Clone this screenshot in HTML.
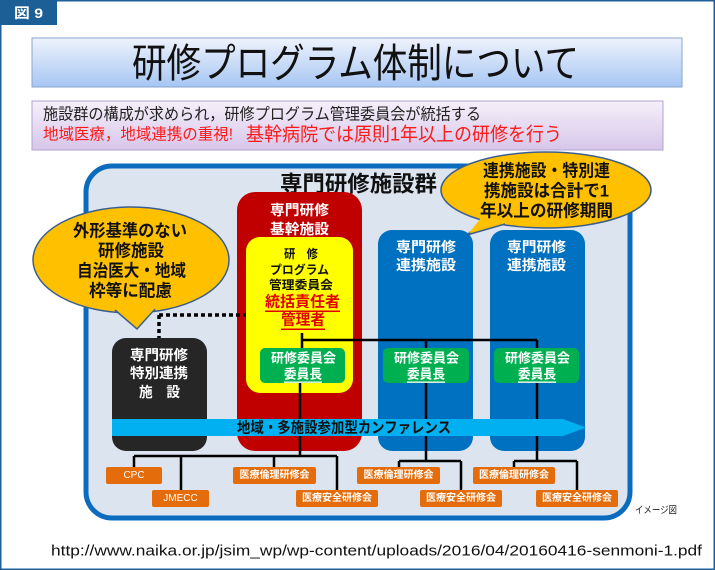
<!DOCTYPE html>
<html><head><meta charset="utf-8"><style>
html,body{margin:0;padding:0;background:#fff}
svg{display:block}
text{font-family:"Liberation Sans","Noto Sans CJK JP",sans-serif}
</style></head><body>
<svg width="715" height="570" viewBox="0 0 715 570" xmlns="http://www.w3.org/2000/svg">
<defs>
<linearGradient id="gt" x1="0" y1="0" x2="0" y2="1"><stop offset="0" stop-color="#eef3fc"/><stop offset="1" stop-color="#a7c6f3"/></linearGradient>
<linearGradient id="gs" x1="0" y1="0" x2="0" y2="1"><stop offset="0" stop-color="#f6f0fa"/><stop offset="1" stop-color="#d6c6ea"/></linearGradient>
</defs>
<rect x="0.75" y="0.75" width="713.5" height="568.5" fill="#fff" stroke="#1f5f9a" stroke-width="1.5"/>
<rect x="0" y="0" width="57" height="25" fill="#1c5e96"/>
<text x="14" y="13" dominant-baseline="central" fill="#fff" font-size="14" font-weight="bold" textLength="29" lengthAdjust="spacingAndGlyphs">図 9</text>

<rect x="32" y="38" width="650" height="49" fill="url(#gt)" stroke="#8aa6cc"/>
<text x="132" y="64" dominant-baseline="central" font-size="40" textLength="447" lengthAdjust="spacingAndGlyphs" fill="#111">研修プログラム体制について</text>

<rect x="32" y="101" width="631" height="49" fill="url(#gs)" stroke="#b3a3cf"/>
<text x="43" y="115" dominant-baseline="central" font-size="16" textLength="438" lengthAdjust="spacingAndGlyphs" fill="#222">施設群の構成が求められ，研修プログラム管理委員会が統括する</text>
<text x="43" y="135" dominant-baseline="central" font-size="16" textLength="190" lengthAdjust="spacingAndGlyphs" fill="#ff1a1a">地域医療，地域連携の重視!</text>
<text x="246" y="135" dominant-baseline="central" font-size="19" textLength="316" lengthAdjust="spacingAndGlyphs" fill="#ff1a1a">基幹病院では原則1年以上の研修を行う</text>

<rect x="86" y="166" width="544" height="352" rx="26" fill="#dce4f0" stroke="#0b6bbf" stroke-width="5"/>
<text x="280" y="184" dominant-baseline="central" font-size="22" font-weight="bold" textLength="157" lengthAdjust="spacingAndGlyphs" fill="#111">専門研修施設群</text>

<rect x="237" y="192" width="125" height="259" rx="18" fill="#c00000"/>
<rect x="246" y="237" width="107" height="156" rx="14" fill="#ffff00"/>
<rect x="378" y="230" width="95" height="221" rx="14" fill="#0070c0"/>
<rect x="490" y="230" width="95" height="221" rx="14" fill="#0070c0"/>
<rect x="112" y="338" width="95" height="113" rx="14" fill="#262626"/>

<rect x="260" y="348" width="85" height="35" rx="5" fill="#00b050"/>
<rect x="383" y="348" width="86" height="35" rx="5" fill="#00b050"/>
<rect x="494" y="348" width="85" height="35" rx="5" fill="#00b050"/>

<g stroke="#000" stroke-width="2.5" fill="none">
<path d="M302 333 V348 M302 340 H537 M426 340 V348 M537 340 V348"/>
<path d="M300 383 V456 M134 456 H337 M134 456 V467 M181 456 V490 M274 456 V467 M337 456 V490"/>
<path d="M426 383 V461 M399 461 H461 M399 461 V467 M461 461 V490"/>
<path d="M537 383 V461 M514 461 H577 M514 461 V467 M577 461 V490"/>
</g>
<path d="M159 315 H246 M159 315 V338" stroke="#000" stroke-width="3.5" stroke-dasharray="4,3" fill="none"/>

<polygon points="112,419 563,419 586,427.5 563,436 112,436" fill="#00b0f0"/>
<text x="237" y="428" dominant-baseline="central" font-size="15" font-weight="bold" textLength="214" lengthAdjust="spacingAndGlyphs" fill="#111">地域・多施設参加型カンファレンス</text>

<ellipse cx="131" cy="260" rx="98" ry="53" fill="#ffc000" stroke="#3a5f8f" stroke-width="1.5"/>
<path d="M115 310 L137 329 L155 309" fill="#ffc000" stroke="#3a5f8f" stroke-width="1.5"/>
<path d="M113 306 L137 327 L158 305 Z" fill="#ffc000"/>
<ellipse cx="546" cy="190" rx="105" ry="38" fill="#ffc000" stroke="#3a5f8f" stroke-width="1.5"/>
<path d="M487 218 L467 235 L505 224" fill="#ffc000" stroke="#3a5f8f" stroke-width="1.5"/>
<path d="M484 214 L469 233 L510 220 Z" fill="#ffc000"/>

<g font-weight="bold" font-size="17" fill="#111" dominant-baseline="central">
<text x="73" y="231" textLength="114" lengthAdjust="spacingAndGlyphs">外形基準のない</text>
<text x="98" y="251" textLength="66" lengthAdjust="spacingAndGlyphs">研修施設</text>
<text x="77" y="271" textLength="109" lengthAdjust="spacingAndGlyphs">自治医大・地域</text>
<text x="89" y="291" textLength="83" lengthAdjust="spacingAndGlyphs">枠等に配慮</text>
<text x="483" y="171" textLength="127" lengthAdjust="spacingAndGlyphs">連携施設・特別連</text>
<text x="484" y="191" textLength="125" lengthAdjust="spacingAndGlyphs">携施設は合計で1</text>
<text x="480" y="211" textLength="133" lengthAdjust="spacingAndGlyphs">年以上の研修期間</text>
</g>

<g font-weight="bold" font-size="14" fill="#fff" dominant-baseline="central">
<text x="270" y="210" textLength="59" lengthAdjust="spacingAndGlyphs">専門研修</text>
<text x="270" y="229" textLength="59" lengthAdjust="spacingAndGlyphs">基幹施設</text>
<text x="396" y="247" textLength="60" lengthAdjust="spacingAndGlyphs">専門研修</text>
<text x="396" y="265" textLength="60" lengthAdjust="spacingAndGlyphs">連携施設</text>
<text x="507" y="247" textLength="59" lengthAdjust="spacingAndGlyphs">専門研修</text>
<text x="507" y="265" textLength="59" lengthAdjust="spacingAndGlyphs">連携施設</text>
<text x="130" y="355" textLength="58" lengthAdjust="spacingAndGlyphs">専門研修</text>
<text x="130" y="373" textLength="58" lengthAdjust="spacingAndGlyphs">特別連携</text>
<text x="139" y="392" textLength="41" lengthAdjust="spacingAndGlyphs">施　設</text>
<text x="271" y="358" font-size="13" textLength="65" lengthAdjust="spacingAndGlyphs">研修委員会</text>
<text x="284" y="374" font-size="13" textLength="38" lengthAdjust="spacingAndGlyphs" text-decoration="underline">委員長</text>
<text x="394" y="358" font-size="13" textLength="65" lengthAdjust="spacingAndGlyphs">研修委員会</text>
<text x="407" y="374" font-size="13" textLength="38" lengthAdjust="spacingAndGlyphs" text-decoration="underline">委員長</text>
<text x="505" y="358" font-size="13" textLength="65" lengthAdjust="spacingAndGlyphs">研修委員会</text>
<text x="518" y="374" font-size="13" textLength="38" lengthAdjust="spacingAndGlyphs" text-decoration="underline">委員長</text>
</g>

<g font-weight="bold" font-size="12" fill="#111" dominant-baseline="central">
<text x="284" y="254" textLength="34" lengthAdjust="spacingAndGlyphs">研　修</text>
<text x="270" y="270" textLength="59" lengthAdjust="spacingAndGlyphs">プログラム</text>
<text x="269" y="285" textLength="64" lengthAdjust="spacingAndGlyphs">管理委員会</text>
<text x="265" y="302" font-size="15" fill="#e00000" textLength="75" lengthAdjust="spacingAndGlyphs" text-decoration="underline">統括責任者</text>
<text x="281" y="320" font-size="15" fill="#e00000" textLength="44" lengthAdjust="spacingAndGlyphs" text-decoration="underline">管理者</text>
</g>

<g fill="#e46c0a">
<rect x="106" y="467" width="56" height="17" rx="2"/>
<rect x="152" y="490" width="57" height="17" rx="2"/>
<rect x="233" y="467" width="83" height="17" rx="2"/>
<rect x="296" y="490" width="82" height="17" rx="2"/>
<rect x="357" y="467" width="83" height="17" rx="2"/>
<rect x="420" y="490" width="82" height="17" rx="2"/>
<rect x="473" y="467" width="82" height="17" rx="2"/>
<rect x="536" y="490" width="82" height="17" rx="2"/>
</g>
<g fill="#fff" font-size="10" dominant-baseline="central" text-anchor="middle">
<text x="134" y="475.5">CPC</text>
<text x="180.5" y="498.5">JMECC</text>
<text x="274.5" y="475.5" font-weight="bold">医療倫理研修会</text>
<text x="337" y="498.5" font-weight="bold">医療安全研修会</text>
<text x="398.5" y="475.5" font-weight="bold">医療倫理研修会</text>
<text x="461" y="498.5" font-weight="bold">医療安全研修会</text>
<text x="514" y="475.5" font-weight="bold">医療倫理研修会</text>
<text x="577" y="498.5" font-weight="bold">医療安全研修会</text>
</g>

<text x="635" y="511" dominant-baseline="central" font-size="10" textLength="42" lengthAdjust="spacingAndGlyphs" fill="#222">イメージ図</text>
<text x="51" y="551" dominant-baseline="central" font-size="15" textLength="651" lengthAdjust="spacingAndGlyphs" fill="#111">http://www.naika.or.jp/jsim_wp/wp-content/uploads/2016/04/20160416-senmoni-1.pdf</text>
</svg>
</body></html>
